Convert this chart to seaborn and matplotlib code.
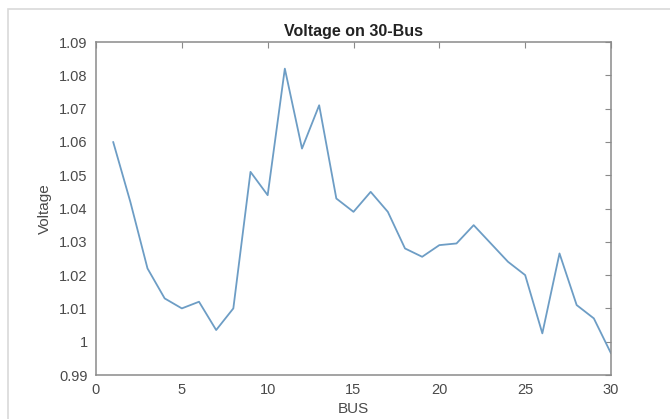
import matplotlib
matplotlib.use("Agg")
import matplotlib.pyplot as plt
from matplotlib.patches import Rectangle
from matplotlib.ticker import FuncFormatter
import pandas as pd
import seaborn as sns

# Bus voltage profile (p.u.) for the 30-bus system
bus = list(range(1, 31))
voltage = [1.060, 1.042, 1.022, 1.013, 1.010, 1.012, 1.0035, 1.010, 1.051, 1.044,
           1.082, 1.058, 1.071, 1.043, 1.039, 1.045, 1.039, 1.028, 1.0255, 1.029,
           1.0295, 1.035, 1.0295, 1.024, 1.020, 1.0025, 1.0265, 1.011, 1.007, 0.9965]
x_ticks = [0, 5, 10, 15, 20, 25, 30]
y_ticks = [0.99, 1.00, 1.01, 1.02, 1.03, 1.04, 1.05, 1.06, 1.07, 1.08, 1.09]

df = pd.DataFrame({"BUS": bus, "Voltage": voltage})

sns.set_theme(style="white")
plt.rcParams["font.family"] = ["Liberation Sans", "DejaVu Sans"]

fig = plt.figure(figsize=(6.70, 4.19), dpi=100)
fig.patch.set_facecolor("white")
# light window frame around the figure
fig.add_artist(Rectangle((8 / 670, -0.01), 1.0, 1 - 9 / 419 + 0.01,
                         transform=fig.transFigure, fill=False,
                         edgecolor="#d9d9d9", linewidth=1.2))

ax = fig.add_axes([96 / 670, 1 - 375 / 419, (611 - 96) / 670, (375 - 42) / 419])
sns.lineplot(data=df, x="BUS", y="Voltage", ax=ax, color="#6d9dc5",
             linewidth=1.3)

ax.set_xlim(0, 30)
ax.set_ylim(0.99, 1.09)
ax.set_xticks(x_ticks)
ax.set_yticks(y_ticks)
ax.yaxis.set_major_formatter(FuncFormatter(lambda v, p: f"{v:.2f}".rstrip("0").rstrip(".")))

axis_col = "#8a8a8a"
for s in ax.spines.values():
    s.set_visible(True)
    s.set_color(axis_col)
    s.set_linewidth(1.1)
ax.tick_params(direction="in", length=4, width=0.8, color=axis_col,
               top=True, right=True, labelsize=10.5, labelcolor="#4a4a4a", pad=6)

ax.set_xlabel("BUS", fontsize=11, color="#4a4a4a", labelpad=3)
ax.set_ylabel("Voltage", fontsize=11, color="#4a4a4a", labelpad=5)
ax.set_title("Voltage on 30-Bus", fontsize=11.5, fontweight="bold",
             color="#222222", pad=4)

fig.savefig("out.png", dpi=100, facecolor="white")
